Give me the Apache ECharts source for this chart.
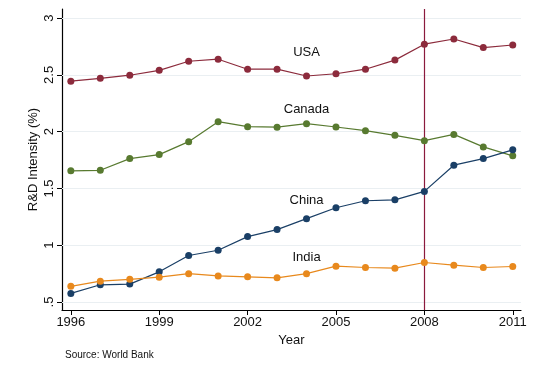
<!DOCTYPE html>
<html>
<head>
<meta charset="utf-8">
<script src="https://cdn.jsdelivr.net/npm/echarts@6/dist/echarts.min.js"></script>
<style>
html,body{margin:0;padding:0;background:#fff;}
#c{width:544px;height:371px;}
</style>
</head>
<body>
<div id="c"></div>
<script>
var years = [1996,1997,1998,1999,2000,2001,2002,2003,2004,2005,2006,2007,2008,2009,2010,2011];
var usa    = [2.445,2.47,2.497,2.54,2.62,2.638,2.55,2.55,2.49,2.51,2.55,2.63,2.77,2.816,2.74,2.763];
var canada = [1.655,1.66,1.763,1.798,1.912,2.088,2.044,2.04,2.07,2.041,2.009,1.968,1.921,1.976,1.866,1.787];
var china  = [0.576,0.652,0.658,0.766,0.91,0.956,1.076,1.138,1.234,1.33,1.392,1.40,1.474,1.705,1.763,1.84];
var india  = [0.638,0.684,0.70,0.719,0.75,0.73,0.722,0.713,0.75,0.816,0.804,0.798,0.848,0.825,0.804,0.813];
var xTicks = [1996,1999,2002,2005,2008,2011];
var yTicks = [0.5,1,1.5,2,2.5,3];
var yTickLabels = ['.5','1','1.5','2','2.5','3'];
var seriesNames = ['USA','Canada','China','India'];
var labelPos = [[2004,2.70],[2004,2.20],[2004,1.392],[2004,0.893]];
var crisisYear = 2008;

var colors = ['#8c2b3c','#587a30','#1a3f66','#e8891d'];
var dataSets = [usa, canada, china, india];

function pairs(v){ return years.map(function(y,i){return [y,v[i]];}); }

var series = dataSets.map(function(v,i){
  return {
    name: seriesNames[i],
    type: 'line',
    data: pairs(v),
    symbol: 'circle',
    symbolSize: 7,
    z: 5,
    itemStyle: {color: colors[i]},
    lineStyle: {color: colors[i], width: 1.2},
    markPoint: {
      symbol: 'circle', symbolSize: 0, silent: true,
      data: [{coord: labelPos[i], value: seriesNames[i]}],
      label: {show: true, position: 'inside', color: '#111', fontSize: 13,
              fontFamily: 'Liberation Sans, Arial', formatter: seriesNames[i]}
    }
  };
});

series.push({
  type: 'line', data: [], silent: true, z: 1,
  markLine: {
    symbol: 'none', silent: true,
    label: {show: false},
    lineStyle: {color: '#eaeff2', width: 1, type: 'solid', opacity: 1},
    data: yTicks.map(function(t){ return {yAxis: t}; })
  }
});
series.push({
  type: 'line', data: [], silent: true, z: 3,
  markLine: {
    symbol: 'none', silent: true,
    label: {show: false},
    lineStyle: {color: '#8b1a3d', width: 1.2, type: 'solid', opacity: 1},
    data: [{xAxis: crisisYear}]
  }
});

var chart = echarts.init(document.getElementById('c'));
chart.setOption({
  backgroundColor: '#fff',
  animation: false,
  grid: {left: 62, right: 23, top: 9, bottom: 61},
  xAxis: {
    type: 'value', min: 1995.7, max: 2011.28,
    name: 'Year', nameLocation: 'middle', nameGap: 23,
    nameTextStyle: {color: '#111', fontSize: 13, fontFamily: 'Liberation Sans, Arial'},
    axisLine: {show: true, onZero: false, lineStyle: {color: '#000', width: 1.2}},
    axisTick: {show: true, length: 5, lineStyle: {color: '#000'}, customValues: xTicks},
    axisLabel: {color: '#111', fontSize: 13, margin: 6, fontFamily: 'Liberation Sans, Arial', customValues: xTicks,
                formatter: function(v){return String(v);}},
    splitLine: {show: false}
  },
  yAxis: {
    type: 'value', min: 0.43, max: 3.08,
    name: 'R&D Intensity (%)', nameLocation: 'middle', nameGap: 22, nameRotate: 90,
    nameMoveOverlap: false,
    nameTextStyle: {color: '#111', fontSize: 13, fontFamily: 'Liberation Sans, Arial'},
    axisLine: {show: true, onZero: false, lineStyle: {color: '#000', width: 1.2}},
    axisTick: {show: true, length: 5, lineStyle: {color: '#000'}, customValues: yTicks},
    axisLabel: {color: '#111', fontSize: 13, margin: 6, rotate: 90, fontFamily: 'Liberation Sans, Arial', customValues: yTicks,
                formatter: function(v){ var i = yTicks.indexOf(v); return i>=0 ? yTickLabels[i] : ''; }},
    splitLine: {show: false}
  },
  graphic: [{
    type: 'text', left: 65, top: 350,
    style: {text: 'Source: World Bank', fontSize: 10, fill: '#111', fontFamily: 'Liberation Sans, Arial'}
  }],
  series: series
});
</script>
</body>
</html>
